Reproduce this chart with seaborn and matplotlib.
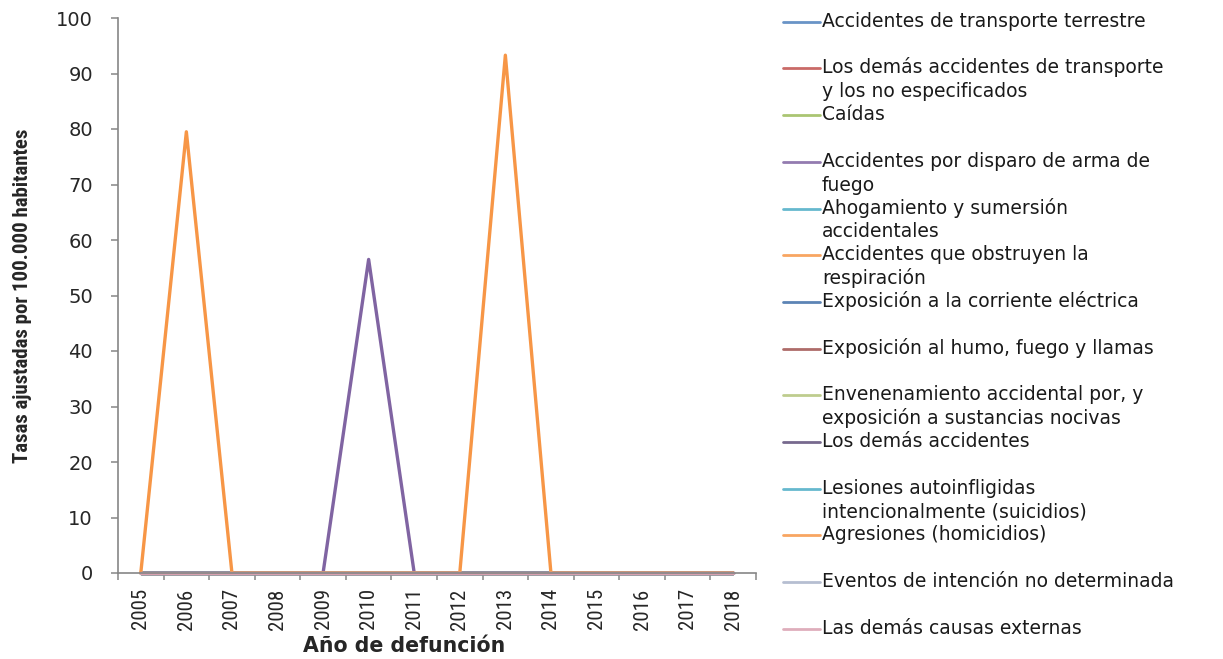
import matplotlib
matplotlib.use("Agg")
import matplotlib.pyplot as plt
import numpy as np
import pandas as pd
import seaborn as sns
from matplotlib import font_manager
from matplotlib.lines import Line2D
from matplotlib.ticker import FixedLocator

anios = [2005, 2006, 2007, 2008, 2009, 2010, 2011, 2012, 2013, 2014, 2015, 2016, 2017, 2018]

causas = [
    "Accidentes de transporte terrestre",
    "Los demás accidentes de transporte\ny los no especificados",
    "Caídas",
    "Accidentes por disparo de arma de\nfuego",
    "Ahogamiento y sumersión\naccidentales",
    "Accidentes que obstruyen la\nrespiración",
    "Exposición a la corriente eléctrica",
    "Exposición al humo, fuego y llamas",
    "Envenenamiento accidental por, y\nexposición a sustancias nocivas",
    "Los demás accidentes",
    "Lesiones autoinfligidas\nintencionalmente (suicidios)",
    "Agresiones (homicidios)",
    "Eventos de intención no determinada",
    "Las demás causas externas",
]

colores = [
    "#4F81BD", "#C0504D", "#9BBB59", "#8064A2", "#4BACC6", "#F79646", "#3F6FA8",
    "#A0524F", "#B3C47A", "#5F4F7A", "#4BACC6", "#F79646", "#A9B3C9", "#D9A0B0",
]

# tasas por causa (la mayoría son cero todos los años)
ceros = [0, 0, 0, 0, 0, 0, 0, 0, 0, 0, 0, 0, 0, 0]
disparo = [0, 0, 0, 0, 0, 56.5, 0, 0, 0, 0, 0, 0, 0, 0]
agresiones = [0, 79.5, 0, 0, 0, 0, 0, 0, 93.3, 0, 0, 0, 0, 0]

valores = [ceros, ceros, ceros, disparo, ceros, ceros, ceros,
           ceros, ceros, ceros, ceros, agresiones, ceros, ceros]


def pick_font(*names):
    have = {f.name for f in font_manager.fontManager.ttflist}
    for n in names:
        if n in have:
            return n
    return "DejaVu Sans"


sns.set_style("white")
plt.rcParams["font.family"] = ["DejaVu Sans"]
narrow = pick_font("Liberation Sans Narrow", "DejaVu Sans Condensed", "Roboto Condensed", "Liberation Sans")

df = pd.DataFrame(
    [(c, a, v) for c, vals in zip(causas, valores) for a, v in zip(anios, vals)],
    columns=["causa", "anio", "tasa"],
)

W, H = 1223, 659
fig = plt.figure(figsize=(W / 100, H / 100), dpi=100)
ax = fig.add_axes([118 / W, 1 - 573 / H, (756 - 118) / W, (573 - 18) / H])

sns.lineplot(
    data=df, x="anio", y="tasa", hue="causa", hue_order=causas,
    palette=dict(zip(causas, colores)), linewidth=2.4, legend=False,
    estimator=None, sort=False, ax=ax,
)
for ln in ax.lines:
    ln.set_clip_on(False)

ax.set_xlim(2004.5, 2018.5)
ax.set_ylim(0, 100)

for side in ["top", "right"]:
    ax.spines[side].set_visible(False)
for side in ["left", "bottom"]:
    ax.spines[side].set_color("#868686")
    ax.spines[side].set_linewidth(1.2)

ax.set_xticks(anios)
ax.set_xticklabels([str(a) for a in anios], rotation=90, fontfamily=narrow, fontsize=15)
ax.xaxis.set_minor_locator(FixedLocator([a - 0.5 for a in anios] + [anios[-1] + 0.5]))
ax.tick_params(axis="x", which="major", bottom=True, length=0, pad=11)
ax.tick_params(axis="x", which="minor", bottom=True, length=5, width=1.1,
               color="#868686", direction="out")

ax.set_yticks(range(0, 101, 10))
ax.tick_params(axis="y", left=True, length=5, width=1.1, color="#868686", pad=13,
               labelsize=14, direction="out")

ax.set_xlabel("Año de defunción", fontsize=14.8, fontweight="bold")
ax.xaxis.set_label_coords((404 - 118) / (756 - 118), (573 - 646) / (573 - 18))
ax.xaxis.label.set_va("center")
ax.set_ylabel("Tasas ajustadas por 100.000 habitantes", fontfamily=narrow,
              fontsize=15, fontweight="bold")
ax.yaxis.set_label_coords((23 - 118) / (756 - 118), 0.5)
ax.yaxis.label.set_va("center")

# leyenda a la derecha, como en Excel
for i, (causa, color) in enumerate(zip(causas, colores)):
    base = 26.7 + 46.7 * i
    fig.add_artist(Line2D([783 / W, 820 / W], [1 - (base - 5) / H] * 2,
                          color=color, lw=2, alpha=0.85))
    for j, linea in enumerate(causa.split("\n")):
        fig.text(822 / W, 1 - (base + 24 * j) / H, linea, va="baseline",
                 ha="left", fontsize=13.5, color="#1a1a1a")

fig.savefig("out.png", dpi=100)
plt.close(fig)
